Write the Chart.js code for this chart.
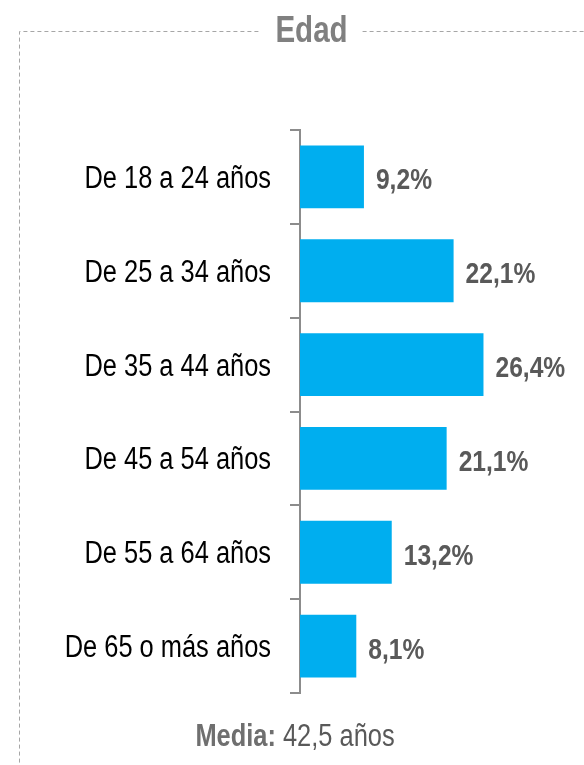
<!DOCTYPE html>
<html>
<head>
<meta charset="utf-8">
<script src="https://cdn.jsdelivr.net/npm/chart.js@4"></script>
<style>
  html, body { margin: 0; padding: 0; background: #fff; }
  #wrap { width: 584px; height: 765px; }
</style>
</head>
<body>
<div id="wrap"><canvas id="edadChart" width="584" height="765"></canvas></div>
<script>
const categories = [
  'De 18 a 24 años',
  'De 25 a 34 años',
  'De 35 a 44 años',
  'De 45 a 54 años',
  'De 55 a 64 años',
  'De 65 o más años'
];
const percentages = [9.2, 22.1, 26.4, 21.1, 13.2, 8.1];
const chartTitle = 'Edad';
const footerLabel = 'Media:';
const footerValue = '42,5 años';

const FONT = '"Liberation Sans", Arial, sans-serif';
const GREY = '#595959';
const NARROW = 0.82; // no narrow face installed, so squeeze horizontally

function narrowText(c, txt, x, y, font, color, align) {
  c.save();
  c.font = font;
  c.fillStyle = color;
  c.textAlign = align;
  c.textBaseline = 'alphabetic';
  c.translate(x, y);
  c.scale(NARROW, 1);
  c.fillText(txt, 0, 0);
  c.restore();
}

function narrowWidth(c, txt, font) {
  c.save();
  c.font = font;
  const w = c.measureText(txt).width * NARROW;
  c.restore();
  return w;
}

// tick labels, value labels, dashed frame, title and footer
const decorations = {
  id: 'decorations',
  afterDraw(chart) {
    const c = chart.ctx;
    const yScale = chart.scales.y;
    const meta = chart.getDatasetMeta(0);

    // category labels
    yScale.ticks.forEach((t, i) => {
      const y = yScale.getPixelForTick(i);
      narrowText(c, yScale.getLabelForValue(t.value), 271, y + 11,
        '31px ' + FONT, '#000', 'right');
    });

    // value labels
    meta.data.forEach((bar, i) => {
      const txt = percentages[i].toFixed(1).replace('.', ',') + '%';
      narrowText(c, txt, bar.x + 12, bar.y + 12.5, 'bold 30px ' + FONT, GREY, 'left');
    });

    // title
    const titleFont = 'bold 36px ' + FONT;
    const tx = 311.5;
    narrowText(c, chartTitle, tx, 42, titleFont, '#808080', 'center');
    const tw = narrowWidth(c, chartTitle, titleFont);

    // dashed frame
    c.save();
    c.strokeStyle = '#a6a6a6';
    c.lineWidth = 1;
    c.setLineDash([4, 3]);
    c.beginPath();
    c.moveTo(tx - tw / 2 - 17, 31.5);
    c.lineTo(19.5, 31.5);
    c.lineTo(19.5, 765);
    c.moveTo(tx + tw / 2 + 15, 31.5);
    c.lineTo(584, 31.5);
    c.stroke();
    c.restore();

    // footer
    const bFont = 'bold 31px ' + FONT;
    const rFont = '31px ' + FONT;
    const lw = narrowWidth(c, footerLabel + ' ', bFont);
    const vw = narrowWidth(c, footerValue, rFont);
    const fx = 295 - (lw + vw) / 2;
    narrowText(c, footerLabel, fx, 746, bFont, '#6f6f6f', 'left');
    narrowText(c, footerValue, fx + lw, 746, rFont, GREY, 'left');
  }
};

new Chart(document.getElementById('edadChart'), {
  type: 'bar',
  data: {
    labels: categories,
    datasets: [{
      data: percentages,
      backgroundColor: '#00aeef',
      barPercentage: 1,
      categoryPercentage: 0.67
    }]
  },
  options: {
    indexAxis: 'y',
    responsive: false,
    animation: false,
    layout: { padding: { top: 130, bottom: 72, right: 6 } },
    plugins: {
      legend: { display: false },
      tooltip: { enabled: false }
    },
    scales: {
      x: {
        display: false,
        min: 0,
        max: 40
      },
      y: {
        afterFit(scale) { scale.width = 300; },
        border: { color: '#8c8c8c', width: 2 },
        grid: {
          offset: true,
          drawOnChartArea: false,
          color: '#8c8c8c',
          lineWidth: 2,
          tickLength: 10
        },
        ticks: {
          color: 'rgba(0,0,0,0)',
          font: { family: FONT, size: 25 }
        }
      }
    }
  },
  plugins: [decorations]
});
</script>
</body>
</html>
